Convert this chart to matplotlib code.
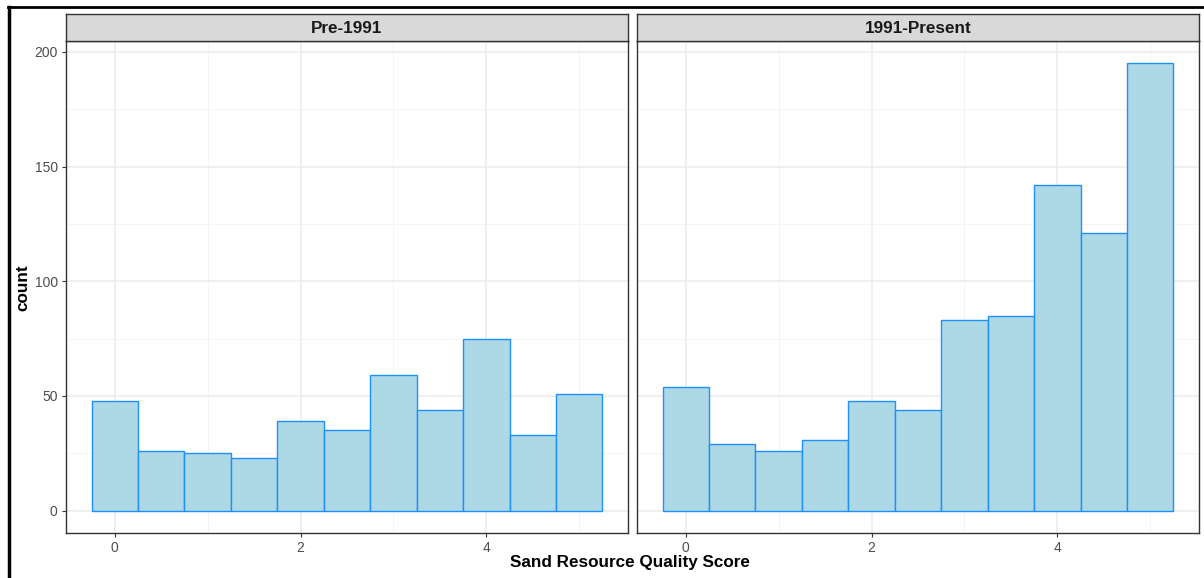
import numpy as np
import matplotlib
matplotlib.use("Agg")
import matplotlib.pyplot as plt
from matplotlib.lines import Line2D

plt.rcParams['font.family'] = ['Liberation Sans', 'DejaVu Sans']

# histogram bins (centres, width 0.5) and counts per period
bin_centers = [0, 0.5, 1, 1.5, 2, 2.5, 3, 3.5, 4, 4.5, 5]
bin_width = 0.5
panels = ["Pre-1991", "1991-Present"]
counts_pre = [48, 26, 25, 23, 39, 35, 59, 44, 75, 33, 51]
counts_post = [54, 29, 26, 31, 48, 44, 83, 85, 142, 121, 195]
x_ticks = [0, 2, 4]
y_ticks = [0, 50, 100, 150, 200]

W, H = 1204, 578
fig = plt.figure(figsize=(W / 100, H / 100), dpi=100)


def fx(px):
    return px / W


def fy(py):
    return 1 - py / H


panel_top, panel_bot, strip_top = 41, 533, 14
lefts = [66, 637]
rights = [628, 1199]

lo = min(bin_centers) - bin_width / 2
hi = max(bin_centers) + bin_width / 2
xpad = (hi - lo) * 0.05
ymax = max(max(counts_pre), max(counts_post))
ypad = ymax * 0.05

for i, (name, counts) in enumerate(zip(panels, [counts_pre, counts_post])):
    ax = fig.add_axes([fx(lefts[i]), fy(panel_bot), fx(rights[i] - lefts[i]),
                       (panel_bot - panel_top) / H])
    ax.bar(bin_centers, counts, width=bin_width, color="#ADD8E6",
           edgecolor="#1E90FF", linewidth=1.0, zorder=3)
    ax.set_xlim(lo - xpad, hi + xpad)
    ax.set_ylim(-ypad, ymax + ypad)
    ax.set_xticks(x_ticks)
    ax.set_xticks([1, 3, 5], minor=True)
    ax.set_yticks(y_ticks)
    ax.set_yticks([25, 75, 125, 175], minor=True)
    ax.grid(which="major", color="#EBEBEB", linewidth=1.1, zorder=0)
    ax.grid(which="minor", color="#F2F2F2", linewidth=0.6, zorder=0)
    ax.set_axisbelow(True)
    ax.tick_params(which="major", length=3, width=0.8, color="#333333",
                   labelsize=10, labelcolor="#4D4D4D", pad=3)
    ax.tick_params(which="minor", length=0)
    if i == 1:
        ax.tick_params(axis="y", which="both", length=0, labelleft=False)
    for sp in ax.spines.values():
        sp.set_color("#333333")
        sp.set_linewidth(1.0)
        sp.set_zorder(5)

    # facet strip
    sax = fig.add_axes([fx(lefts[i]), fy(panel_top), fx(rights[i] - lefts[i]),
                        (panel_top - strip_top) / H])
    sax.set_facecolor("#D9D9D9")
    sax.set_xticks([])
    sax.set_yticks([])
    for sp in sax.spines.values():
        sp.set_color("#333333")
        sp.set_linewidth(1.0)
    sax.text(0.5, 0.45, name, ha="center", va="center", fontsize=12.3,
             fontweight="bold", color="#1A1A1A", transform=sax.transAxes)

fig.text(fx(630), fy(563), "Sand Resource Quality Score", ha="center",
         va="center", fontsize=12.3, fontweight="bold")
fig.text(fx(23), fy(288), "count", ha="center", va="center", rotation=90,
         fontsize=12.3, fontweight="bold")

# frame lines around the figure
fig.add_artist(Line2D([fx(9), fx(9)], [0, fy(7)], color="black", linewidth=2.5,
                      transform=fig.transFigure))
fig.add_artist(Line2D([fx(8), 1], [fy(7), fy(7)], color="black", linewidth=2,
                      transform=fig.transFigure))

fig.savefig("out.png", dpi=100)
